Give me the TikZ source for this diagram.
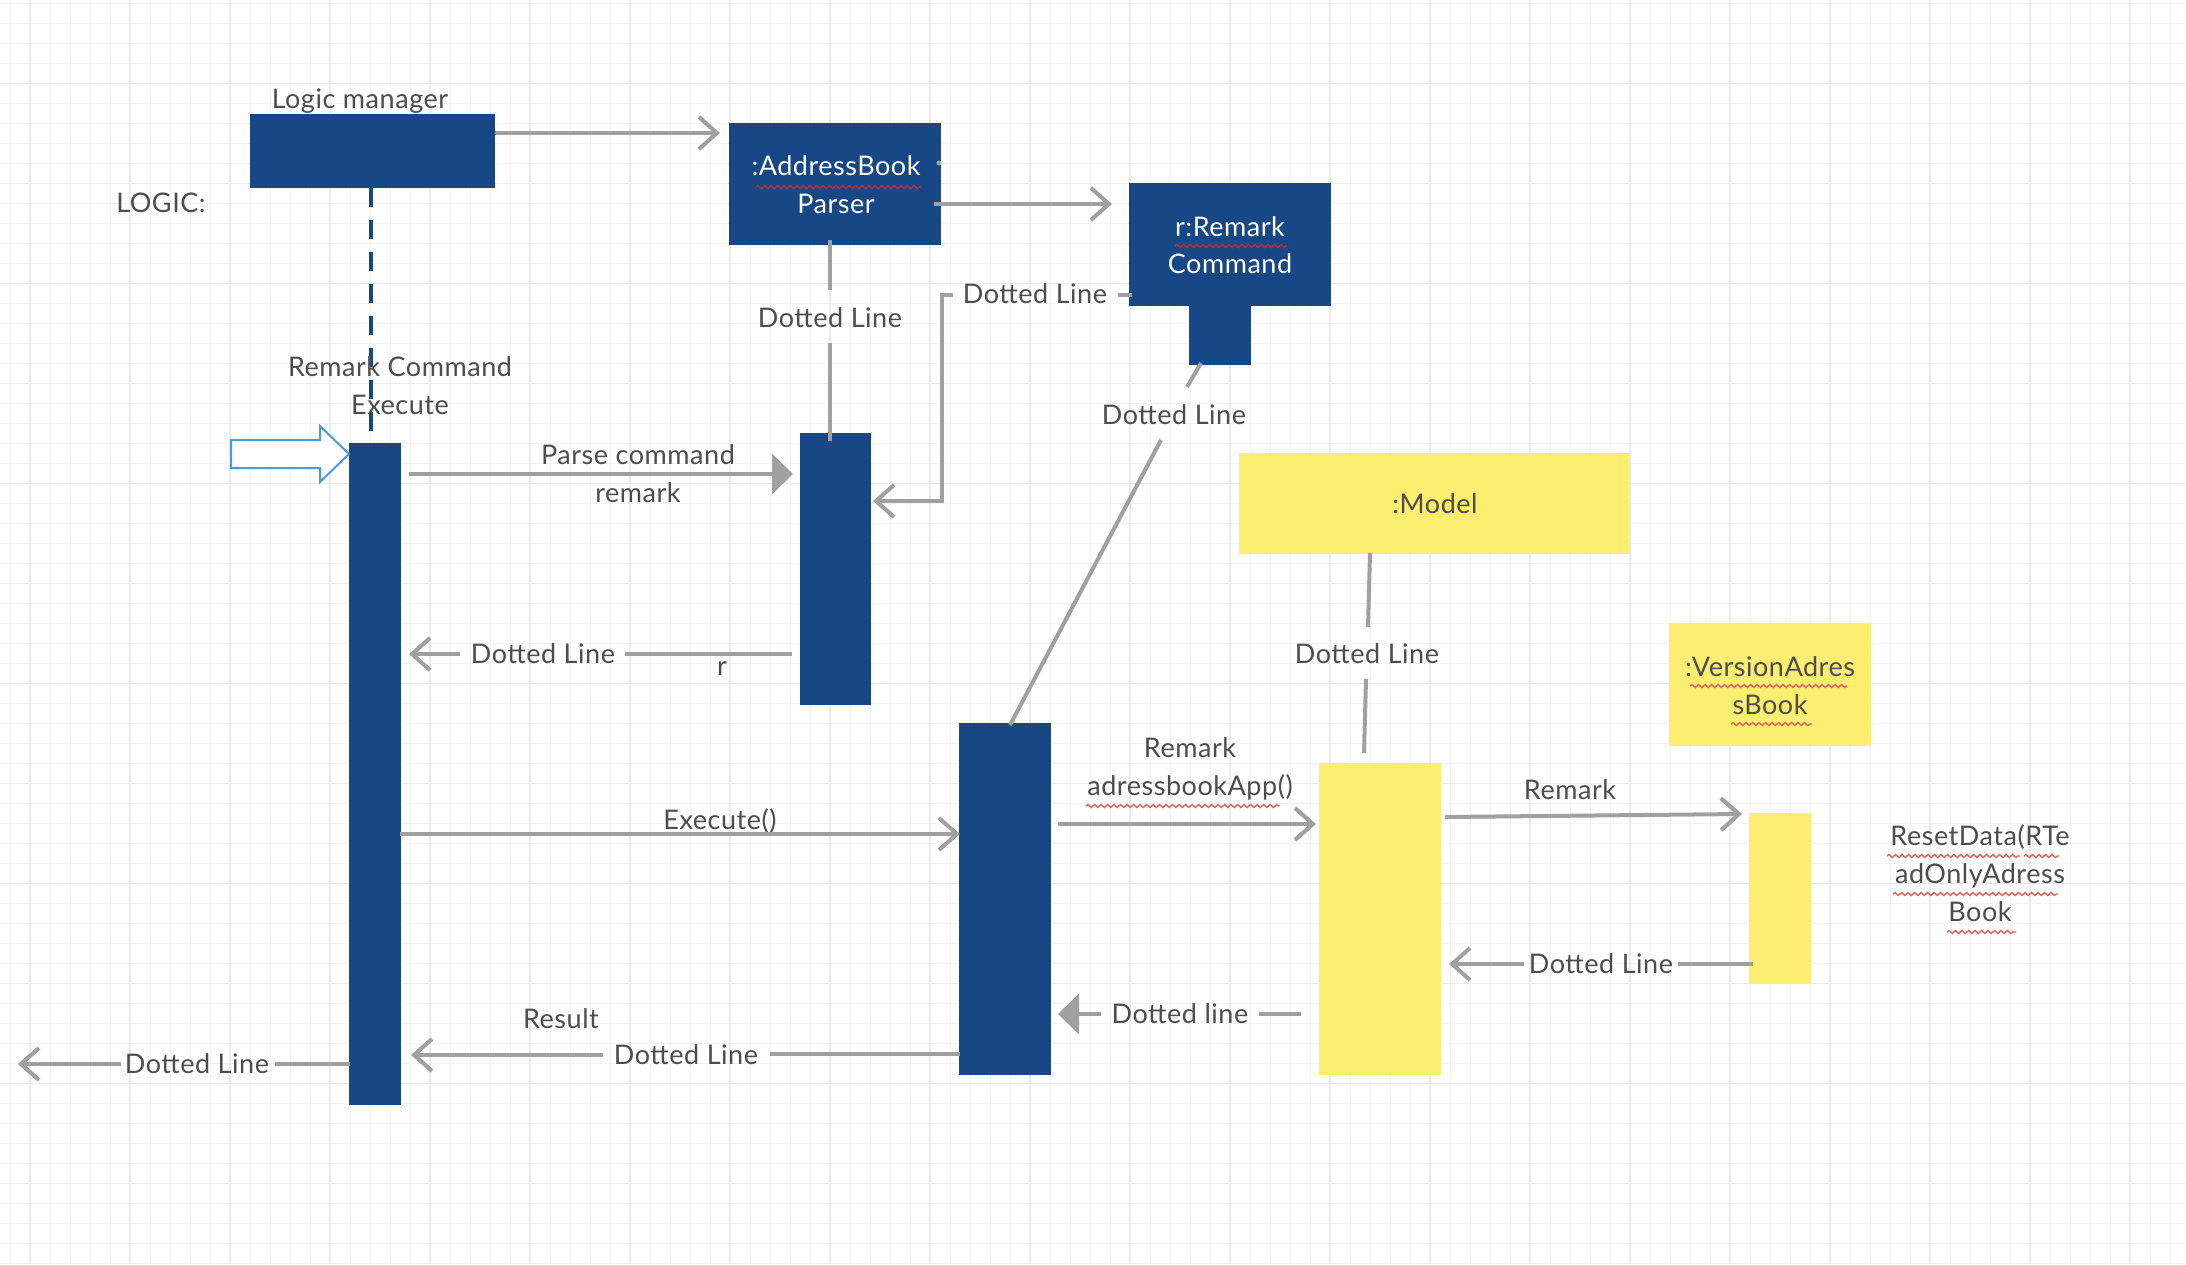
\documentclass[tikz,border=0pt]{standalone}
\usepackage{fontspec}
\setmainfont{Lato}[LetterSpace=2.0]
\usetikzlibrary{arrows.meta,decorations.pathmorphing}
\definecolor{navy}{HTML}{184785}
\definecolor{yel}{HTML}{FCEE70}
\definecolor{lgray}{HTML}{A0A0A0}
\definecolor{txt}{HTML}{4D4D4D}
\definecolor{lblue}{HTML}{4C9BD8}
\definecolor{gridmin}{HTML}{F3F3F3}
\definecolor{gridmaj}{HTML}{EBEBEB}
\definecolor{sqred}{HTML}{E8615A}
\definecolor{sqdark}{HTML}{B0303A}
\begin{document}
\begin{tikzpicture}[x=1pt,y=-1pt,
  lbl/.style={text=txt,inner sep=0pt,outer sep=0pt,text height=19.3pt,text depth=0pt,font=\fontsize{27}{38}\selectfont},
  wlbl/.style={lbl,text=white},
  navybox/.style={fill=navy,inner sep=0pt,outer sep=0pt},
  yelbox/.style={fill=yel,inner sep=0pt,outer sep=0pt},
  conn/.style={draw=lgray,line width=4pt},
  openmsg/.style={conn,-{Straight Barb[length=18pt,width=32pt]}},
  fillmsg/.style={conn,-{Triangle[length=21pt,width=40pt]}},
  squig/.style={draw=sqred,line width=1.4pt,decorate,decoration={snake,segment length=6.5pt,amplitude=1.5pt}},
  sqnavy/.style={squig,draw=sqdark},
  gmin/.style={draw=gridmin,line width=1pt},
  gmaj/.style={draw=gridmaj,line width=1.2pt}]
\useasboundingbox (0,0) rectangle (2186,1264);
\fill[white] (0,0) rectangle (2186,1264);
% grid
\foreach \x in {10,30,...,2190} \draw[gmin] (\x,0) -- (\x,1264);
\foreach \y in {3.3,23.3,...,1264} \draw[gmin] (0,\y) -- (2186,\y);
\foreach \x in {30,130,...,2190} \draw[gmaj] (\x,0) -- (\x,1264);
\foreach \y in {83.3,183.3,...,1264} \draw[gmaj] (0,\y) -- (2186,\y);

% boxes
\node[navybox,minimum width=245pt,minimum height=74pt] (lm) at (372.5,151) {};
\node[navybox,minimum width=212pt,minimum height=122pt] (parser) at (835,184) {};
\node[navybox,minimum width=202pt,minimum height=123pt] (rc) at (1230,244.5) {};
\node[navybox,minimum width=62pt,minimum height=59pt] (rcs) at (1220,335.5) {};
\node[navybox,minimum width=52pt,minimum height=662pt] (lmact) at (375,774) {};
\node[navybox,minimum width=71pt,minimum height=272pt] (pact) at (835.5,569) {};
\node[navybox,minimum width=92pt,minimum height=352pt] (cact) at (1005,899) {};
\node[yelbox,minimum width=391pt,minimum height=101pt] (model) at (1434.5,503.5) {};
\node[yelbox,minimum width=122pt,minimum height=312pt] (mact) at (1380,919) {};
\node[yelbox,minimum width=202pt,minimum height=123pt] (ver) at (1770,684.5) {};
\node[yelbox,minimum width=62pt,minimum height=171pt] (vact) at (1780,898.5) {};

% dashed lifeline of logic manager
\draw[navy,line width=4pt,dash pattern=on 19pt off 13pt] (371,188) -- (371,435);

% texts
\node[lbl] (tlm) at (360,99) {Logic manager};
\node[lbl] (tlogic) at (161,203) {LOGIC:};
\node[wlbl] (tab1) at (836,166) {:AddressBook};
\node[wlbl] (tab2) at (836,204) {Parser};
\node[wlbl] (trc1) at (1230,227) {r:Remark};
\node[wlbl] (trc2) at (1230,264) {Command};
\node[lbl] (trce1) at (400,367) {Remark Command};
\node[lbl] (trce2) at (400,405) {Execute};
\node[lbl] (tdl1) at (830,318) {Dotted Line};
\node[lbl] (tdl2) at (1035,294) {Dotted Line};
\node[lbl] (tdl3) at (1174,415) {Dotted Line};
\node[lbl] (tpc1) at (638,455) {Parse command};
\node[lbl] (tpc2) at (638,493) {remark};
\node[lbl] (tdl4) at (543,654) {Dotted Line};
\node[lbl] (tr) at (722,666) {r};
\node[lbl] (tmodel) at (1435,504) {:Model};
\node[lbl] (tdl5) at (1367,654) {Dotted Line};
\node[lbl] (tv1) at (1770,667) {:VersionAdres};
\node[lbl] (tv2) at (1770,705) {sBook};
\node[lbl] (texec) at (720,820) {Execute()};
\node[lbl] (trab1) at (1190,748) {Remark};
\node[lbl] (trab2) at (1190,786) {adressbookApp()};
\node[lbl] (trem) at (1570,790) {Remark};
\node[lbl] (trs1) at (1980,836) {ResetData(RTe};
\node[lbl] (trs2) at (1980,874) {adOnlyAdress};
\node[lbl] (trs3) at (1980,912) {Book};
\node[lbl] (tdl6) at (1601,964) {Dotted Line};
\node[lbl] (tdl7) at (1180,1014) {Dotted line};
\node[lbl] (tres) at (561,1019) {Result};
\node[lbl] (tdl8) at (686,1055) {Dotted Line};
\node[lbl] (tdl9) at (197,1064) {Dotted Line};

% spell-check squiggles
\draw[sqnavy] (756,187) -- (921,187);
\draw[sqnavy] (1175,246) -- (1287,246);
\draw[squig] (1086,806) -- (1280,806);
\draw[squig] (1690,686) -- (1847,686);
\draw[squig] (1731,724) -- (1812,724);
\draw[squig] (1887,856) -- (2020,856);
\draw[squig] (2024,856) -- (2059,856);
\draw[squig] (1893,894) -- (2058,894);
\draw[squig] (1947,932) -- (2016,932);

% connectors
\draw[openmsg] (495,133) -- (720,133);
\draw[openmsg] (934,204) -- (1112,204);
\fill[lgray] (939,163) circle (2.5pt);
\draw[conn] (830,240) -- (830,290);
\draw[conn] (830,343) -- (830,441);
\draw[conn] (1118,295) -- (1132,295);
\draw[openmsg,line join=miter] (953,295) -- (942,295) -- (942,501) -- (873,501);
\draw[conn] (1201,363) -- (1187,387);
\draw[conn] (1161,440) -- (1010,725);
\draw[fillmsg] (409,474) -- (793,474);
\draw[conn] (792,654) -- (625,654);
\draw[openmsg] (460,654) -- (409,654);
\draw[openmsg] (400,834) -- (960,834);
\draw[conn] (1370,553) -- (1368,627);
\draw[conn] (1366,679) -- (1364,753);
\draw[openmsg] (1058,824) -- (1316,824);
\draw[openmsg] (1445,817) -- (1742,814);
\draw[conn] (1753,964) -- (1678,964);
\draw[openmsg] (1524,964) -- (1449,964);
\draw[conn] (1301,1014) -- (1259,1014);
\draw[fillmsg] (1101,1014) -- (1058,1014);
\draw[conn] (960,1054) -- (770,1054);
\draw[openmsg] (603,1055) -- (411,1055);
\draw[conn] (350,1064) -- (275,1064);
\draw[openmsg] (121,1064) -- (18,1064);

% hollow entry arrow
\draw[lblue,line width=2pt,fill=white,line join=miter] (231,440) -- (320,440) -- (320,426) -- (349,454) -- (320,482) -- (320,468) -- (231,468) -- cycle;
\end{tikzpicture}
\end{document}
